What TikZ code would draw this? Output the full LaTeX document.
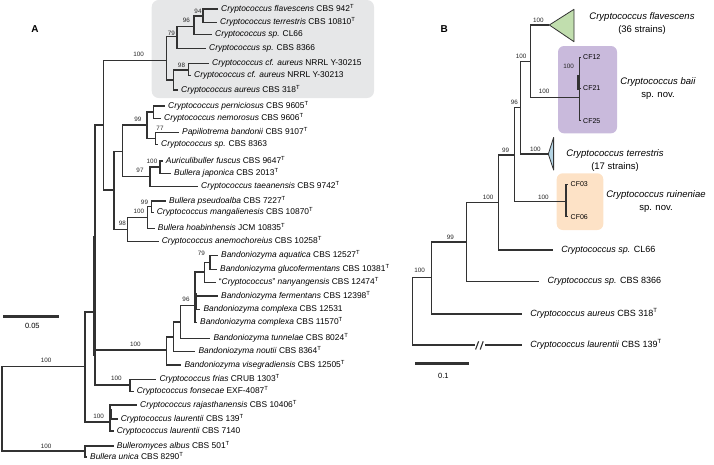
\documentclass[tikz,border=0pt]{standalone}
\usepackage{fontspec}
\setmainfont{Liberation Sans}
\usetikzlibrary{calc}
\definecolor{treeGray}{RGB}{50,50,50}
\definecolor{boxGray}{RGB}{230,231,232}
\definecolor{baiiPurple}{RGB}{201,186,220}
\definecolor{ruinOrange}{RGB}{253,226,198}
\definecolor{flavGreen}{RGB}{193,222,174}
\definecolor{terrBlue}{RGB}{180,212,228}
\newcommand{\gen}[1]{\textit{#1}}
\newcommand{\typ}{\textsuperscript{T}}
\tikzset{
  br/.style={draw=treeGray, line width=1.1pt},
  thick seg/.style={draw=treeGray, line width=2.3pt},
  leafA/.style={anchor=west, inner xsep=3pt, inner ysep=0pt, text height=6pt, text depth=1.8pt, font=\fontsize{8.4}{9}\selectfont},
  leafB/.style={anchor=west, inner xsep=8.5pt, inner ysep=0pt, text height=6.4pt, text depth=1.9pt, font=\fontsize{9}{10}\selectfont},
  cfl/.style={anchor=west, inner xsep=2.5pt, inner ysep=0pt, text height=5pt, text depth=0pt, font=\fontsize{7}{8}\selectfont},
  bs/.style={inner sep=0pt, text=black!85, font=\fontsize{6.3}{7}\selectfont},
  spB/.style={align=center, inner sep=0pt, font=\fontsize{9.5}{13}\selectfont},
  panel/.style={inner sep=0pt, font=\fontsize{10}{12}\selectfont\bfseries},
  scl/.style={inner sep=0pt, font=\fontsize{7.5}{9}\selectfont},
}

\begin{document}
\begin{tikzpicture}[x=1pt, y=-1pt]
\useasboundingbox (0,0) rectangle (714,464);

% backgrounds
\fill[boxGray, rounded corners=7pt] (151.7,0) rectangle (374,98);
\fill[baiiPurple, rounded corners=6pt] (558,46) rectangle (617,133.3);
\fill[ruinOrange, rounded corners=6pt] (556.7,173.3) rectangle (603.3,230);

\node[panel] (labA) at (35,29) {A};
\node[panel] (labB) at (444.3,29.3) {B};

% panel A: inner nodes
\foreach \nm/\x/\y in {rootA/2/408.8, nBig/85/366.7, nMain/95/312, nA1/103.3/125,
  nClade/166.7/60.7, n79/177/36.7, n96/194/26.5, n94/203/16, nAur/173.7/80,
  n98b/188.3/70, nB1/114/190, n122/122.7/151.7, n99/147/125, nPern/153.3/112,
  n77/155.3/138.3, n97/150/176.7, n100f/160/167, n98/127.7/229.5, n100p/147.7/217.5,
  n99p/151.7/206.7, nBand/166.7/350, n173/173.3/337, n180/180.7/322, n96b/195/305.5,
  n204/204.3/272, n79b/210/262.5, nFrias/130/385, nLaur/110/422, nBull/85/451}
  \coordinate (\nm) at (\x,\y);

% panel A: leaves
\foreach \nm/\x/\y/\txt in {
  flav/218/9/{\gen{Cryptococcus flavescens} CBS 942\typ},
  terr/217/22.7/{\gen{Cryptococcus terrestris} CBS 10810\typ},
  cl66/212/34.3/{\gen{Cryptococcus sp.} CL66},
  c8366/206/48.7/{\gen{Cryptococcus sp.} CBS 8366},
  y215/209/63.3/{\gen{Cryptococcus cf. aureus} NRRL Y-30215},
  y213/191/75.7/{\gen{Cryptococcus cf. aureus} NRRL Y-30213},
  aur/178/90/{\gen{Cryptococcus aureus} CBS 318\typ},
  per/165/106/{\gen{Cryptococcus perniciosus} CBS 9605\typ},
  nem/161/118.3/{\gen{Cryptococcus nemorosus} CBS 9606\typ},
  pap/179/132.3/{\gen{Papiliotrema bandonii} CBS 9107\typ},
  c8363/158/144.3/{\gen{Cryptococcus sp.} CBS 8363},
  fus/162.7/161/{\gen{Auriculibuller fuscus} CBS 9647\typ},
  jap/171/173.3/{\gen{Bullera japonica} CBS 2013\typ},
  tae/198/186.7/{\gen{Cryptococcus taeanensis} CBS 9742\typ},
  pse/166/201/{\gen{Bullera pseudoalba} CBS 7227\typ},
  man/153.7/212.3/{\gen{Cryptococcus mangalienesis} CBS 10870\typ},
  hoa/154.7/228.3/{\gen{Bullera hoabinhensis} JCM 10835\typ},
  ane/158.7/241.7/{\gen{Cryptococcus anemochoreius} CBS 10258\typ},
  aqu/218/255.7/{\gen{Bandoniozyma aquatica} CBS 12527\typ},
  glu/217/269.3/{\gen{Bandoniozyma glucofermentans} CBS 10381\typ},
  nan/215.7/282.7/{“\gen{Cryptococcus}” \gen{nanyangensis} CBS 12474\typ},
  fer/218/296/{\gen{Bandoniozyma fermentans} CBS 12398\typ},
  cx1/200.3/309.3/{\gen{Bandoniozyma complexa} CBS 12531},
  cx2/197/322.7/{\gen{Bandoniozyma complexa} CBS 11570\typ},
  tun/210.3/338.3/{\gen{Bandoniozyma tunnelae} CBS 8024\typ},
  nou/195.3/351.7/{\gen{Bandoniozyma noutii} CBS 8364\typ},
  vis/181.3/365/{\gen{Bandoniozyma visegradiensis} CBS 12505\typ},
  fri/156.3/379.3/{\gen{Cryptococcus frias} CRUB 1303\typ},
  fon/133.7/391.5/{\gen{Cryptococcus fonsecae} EXF-4087\typ},
  raj/137/405/{\gen{Cryptococcus rajasthanensis} CBS 10406\typ},
  la1/117.7/419/{\gen{Cryptococcus laurentii} CBS 139\typ},
  la2/113.7/431/{\gen{Cryptococcus laurentii} CBS 7140},
  alb/113.7/446/{\gen{Bulleromyces albus} CBS 501\typ},
  uni/87/457/{\gen{Bullera unica} CBS 8290\typ}}
{
  \coordinate (\nm) at (\x,\y);
  \node[leafA] (\nm-t) at (\nm) {\txt};
}

% panel A: branches
\foreach \p/\c in {rootA/nBig, rootA/nBull, nBig/nMain, nBig/nLaur,
  nMain/nA1, nMain/nBand, nMain/nFrias, nA1/nClade, nA1/nB1,
  nClade/n79, nClade/nAur, n79/n96, n79/c8366, n96/n94, n96/cl66,
  n94/flav, n94/terr, nAur/n98b, nAur/aur, n98b/y215, n98b/y213,
  nB1/n122, nB1/n98, n122/n99, n122/n97, n99/nPern, n99/n77,
  nPern/per, nPern/nem, n77/pap, n77/c8363, n97/n100f, n97/tae,
  n100f/fus, n100f/jap, n98/n100p, n98/ane, n100p/n99p, n100p/hoa,
  n99p/pse, n99p/man, nBand/n173, nBand/vis, n173/n180, n173/nou,
  n180/n96b, n180/tun, n96b/n204, n96b/fer, n96b/cx1, n96b/cx2,
  n204/n79b, n204/nan, n79b/aqu, n79b/glu, nFrias/fri, nFrias/fon,
  nLaur/raj, nLaur/la1, nLaur/la2, nBull/alb, nBull/uni}
  \draw[br] (\p) |- (\c);

\draw[thick seg] (94.4,236) -- (94.4,356);
\draw[thick seg] (196,293) -- (196,309);
\draw[thick seg] (110.4,409) -- (110.4,418);

% bootstrap values A
\foreach \v/\x/\y [count=\i] in {94/198/11, 96/186.3/20.8, 79/171.3/33.2, 100/138.7/54.5,
  98/181.5/65.8, 99/137.8/119.7, 77/160/128.5, 100/152/161.8, 97/140/170.5,
  99/144.5/202.2, 100/138.8/211.7, 98/122.3/223.7, 79/201.3/253.5, 96/186/299.2,
  100/135.3/344.2, 100/116.3/378.5, 100/98.7/416.5, 100/46.2/360.8, 100/46.2/446.8}
  \node[bs] (bsA\i) at (\x,\y) {\v};

% scale A
\draw[treeGray, line width=2.6pt] (3.3,316.7) -- (59.3,316.7);
\node[scl] (sclA) at (32.3,326) {0.05};

% panel B: inner nodes
\foreach \nm/\x/\y in {rootB/412.3/311, nB100/431.7/277.3, nB99a/466.7/242,
  nB100b/498.3/202.3, nB99b/514.3/155, nB96/520.7/107.3, nB100c/530.7/61.7,
  nBaii/579.5/97.7, nRuin/566/201.7, flavT/549.3/25, terrT/548.3/154,
  brkL/474.5/345, brkR/485/345}
  \coordinate (\nm) at (\x,\y);

% panel B: leaves
\foreach \nm/\x/\y/\txt in {
  cl66b/552.7/250/{\gen{Cryptococcus sp.} CL66},
  c8366b/539/281.7/{\gen{Cryptococcus sp.} CBS 8366},
  aurb/521.7/314/{\gen{Cryptococcus aureus} CBS 318\typ},
  laub/521.7/345/{\gen{Cryptococcus laurentii} CBS 139\typ}}
{
  \coordinate (\nm) at (\x,\y);
  \node[leafB] (\nm-t) at (\nm) {\txt};
}
\foreach \nm/\x/\y/\txt in {cf12/580.5/57.3/CF12, cf21/580.5/88.3/CF21,
  cf25/580.5/120.7/CF25, cf03/568/184.3/CF03, cf06/568/216.7/CF06}
{
  \coordinate (\nm) at (\x,\y);
  \node[cfl] (\nm-t) at (\nm) {\txt};
}

% collapsed clades
\draw[treeGray, line width=0.8pt, fill=flavGreen, line join=round] (flavT) -- (574,9.3) -- (574,41.7) -- cycle;
\draw[treeGray, line width=0.8pt, fill=terrBlue, line join=round] (terrT) -- (553.6,137.5) -- (553.6,170) -- cycle;

% panel B: branches
\foreach \p/\c in {rootB/nB100, rootB/brkL, nB100/nB99a, nB100/aurb,
  nB99a/nB100b, nB99a/c8366b, nB100b/nB99b, nB100b/cl66b,
  nB99b/nB96, nB99b/nRuin, nB96/nB100c, nB96/terrT,
  nB100c/flavT, nB100c/nBaii, nBaii/cf12, nBaii/cf21, nBaii/cf25,
  nRuin/cf03, nRuin/cf06}
  \draw[br] (\p) |- (\c);
\draw[br] (brkR) -- (laub);
\draw[br] (475.6,349.5) -- (478.6,341.3) (480.2,349.5) -- (483.2,341.3);
\draw[thick seg] (578.6,75) -- (578.6,90);

% bootstrap values B
\foreach \v/\x/\y [count=\i] in {100/538.3/20.8, 100/521/56.8, 100/544/91.7,
  100/568.7/66.8, 96/514.3/102.7, 100/535.3/149.2, 99/505.5/150.2,
  100/543.3/197, 100/488/197, 99/450.3/237.5, 100/419.5/270.8}
  \node[bs] (bsB\i) at (\x,\y) {\v};

% clade names B
\node[spB] (flavLab) at (642,23.7) {\gen{Cryptococcus flavescens}\\(36 strains)};
\node[spB] (baiiLab) at (658,88.5) {\gen{Cryptococcus baii}\\sp. nov.};
\node[spB] (terrLab) at (615,161) {\gen{Cryptococcus terrestris}\\(17 strains)};
\node[spB] (ruinLab) at (656,202) {\gen{Cryptococcus ruineniae}\\sp. nov.};

% scale B
\draw[treeGray, line width=2.6pt] (415,363.3) -- (469.3,363.3);
\node[scl] (sclB) at (443.3,375.7) {0.1};
\end{tikzpicture}
\end{document}
